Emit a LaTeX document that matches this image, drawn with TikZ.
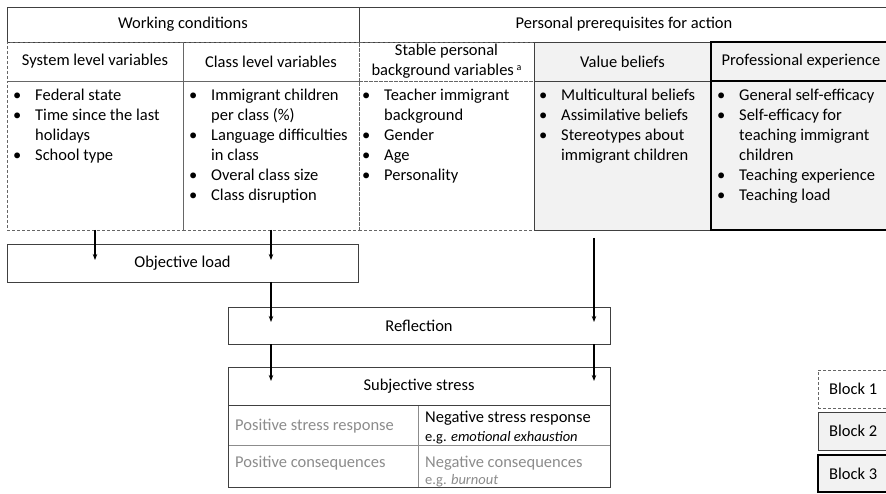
\documentclass[tikz,border=0pt]{standalone}
\usepackage{fontspec}
\setmainfont{Carlito}
\usetikzlibrary{arrows.meta}
\definecolor{fillg}{HTML}{F2F2F2}
\definecolor{lineg}{HTML}{404040}
\definecolor{txtg}{HTML}{8C8C8C}
\newcommand{\bi}{\makebox[22pt][l]{\textbullet}}
\newcommand{\bc}{\hspace*{22pt}}
\newcommand{\fst}{\rule{0pt}{13pt}}
\newcommand{\hfs}{\fontsize{16.5}{20}\selectfont}
\newcommand{\sfs}{\fontsize{14.5}{16}\selectfont}
\begin{document}
\begin{tikzpicture}[x=1pt,y=-1pt,
  box/.style={draw=lineg, line width=0.9pt, inner sep=0pt, outer sep=0pt, anchor=north west, font=\hfs, align=center},
  dbox/.style={box, draw=black!60, dash pattern=on 3pt off 2pt},
  gbox/.style={box, fill=fillg},
  tbox/.style={box, fill=fillg, draw=black, line width=2.6pt},
  cell/.style={box, draw=black!45},
  lst/.style={anchor=north west, align=left, inner sep=0pt, font=\hfs},
  txt/.style={anchor=base west, inner sep=0pt, font=\hfs},
  arr/.style={-{Stealth[length=6pt,width=4.5pt]}, line width=1.2pt, draw=black}]
\fill[white] (0,0) rectangle (886,494);
\useasboundingbox (0,0) rectangle (886,494);
% top headers
\node[box, minimum width=352pt, minimum height=35pt] (wc) at (7,7) {Working conditions};
\node[box, minimum width=530pt, minimum height=35pt] (pp) at (359,7) {Personal prerequisites for action};
% dashed block 1
\node[dbox, minimum width=176pt, minimum height=39pt] (sysh) at (7,42) {System level variables};
\node[dbox, minimum width=176pt, minimum height=39pt] (clsh) at (183,42) {Class level variables};
\node[dbox, minimum width=175pt, minimum height=39pt] (stbh) at (359,42) {Stable personal\\background variables\,{\fontsize{10}{10}\selectfont\raisebox{5pt}{a}}};
\node[dbox, minimum width=176pt, minimum height=149pt] (sysc) at (7,81) {};
\node[dbox, minimum width=176pt, minimum height=149pt] (clsc) at (183,81) {};
\node[dbox, minimum width=175pt, minimum height=149pt] (stbc) at (359,81) {};
% grey block 2
\node[gbox, minimum width=177pt, minimum height=39pt] (valh) at (534,42) {Value beliefs};
\node[gbox, minimum width=177pt, minimum height=149pt] (valc) at (534,81) {};
% thick block 3
\node[tbox, minimum width=180pt, minimum height=39pt] (profh) at (711,42) {Professional experience};
\node[tbox, minimum width=180pt, minimum height=149pt] (profc) at (711,81) {};
% lists
\node[lst] (sysl) at (13,87) {\fst\bi Federal state\\ \bi Time since the last\\ \bc holidays\\ \bi School type};
\node[lst] (clsl) at (189,87) {\fst\bi Immigrant children\\ \bc per class (\%)\\ \bi Language difficulties\\ \bc in class\\ \bi Overal class size\\ \bi Class disruption};
\node[lst] (stbl) at (362,87) {\fst\bi Teacher immigrant\\ \bc background\\ \bi Gender\\ \bi Age\\ \bi Personality};
\node[lst] (vall) at (539,87) {\fst\bi Multicultural beliefs\\ \bi Assimilative beliefs\\ \bi Stereotypes about\\ \bc immigrant children};
\node[lst] (profl) at (717,87) {\fst\bi General self-efficacy\\ \bi Self-efficacy for\\ \bc teaching immigrant\\ \bc children\\ \bi Teaching experience\\ \bi Teaching load};
% process boxes
\node[box, minimum width=351pt, minimum height=38pt] (ol) at (7,244) {Objective load};
\node[box, minimum width=382pt, minimum height=37pt] (refl) at (228,307) {Reflection};
\node[box, minimum width=382pt, minimum height=38pt] (ss) at (228,367) {Subjective stress};
\node[cell, minimum width=190pt, minimum height=40pt] (c11) at (228,405) {};
\node[cell, minimum width=192pt, minimum height=40pt] (c12) at (418,405) {};
\node[cell, minimum width=190pt, minimum height=42pt] (c21) at (228,445) {};
\node[cell, minimum width=192pt, minimum height=42pt] (c22) at (418,445) {};
\draw[draw=lineg, line width=0.9pt] (c11.north west) rectangle (c22.south east);
\node[txt, text=txtg] (t11) at (235,430) {Positive stress response};
\node[txt] (t12) at (425,422) {Negative stress response};
\node[txt, font=\sfs] (t12b) at (425,441) {e.g. \textit{emotional exhaustion}};
\node[txt, text=txtg] (t21) at (235,467) {Positive consequences};
\node[txt, text=txtg] (t22) at (425,467) {Negative consequences};
\node[txt, text=txtg, font=\sfs] (t22b) at (425,484) {e.g. \textit{burnout}};
% arrows
\coordinate (e1) at (95,260);
\coordinate (e2) at (271,260);
\coordinate (e3) at (271,322);
\coordinate (s4) at (594,238);
\coordinate (e4) at (594,322);
\coordinate (e5) at (271,381);
\coordinate (e6) at (594,381);
\draw[arr] (sysc.south) -- (e1);
\draw[arr] (clsc.south) -- (e2);
\draw[arr] (e3 |- ol.south) -- (e3);
\draw[arr] (s4) -- (e4);
\draw[arr] (e5 |- refl.south) -- (e5);
\draw[arr] (e6 |- refl.south) -- (e6);
% legend
\node[dbox, minimum width=80pt, minimum height=38pt] (b1) at (818,370) {};
\node[gbox, minimum width=80pt, minimum height=38pt] (b2) at (818,412) {};
\node[tbox, minimum width=80pt, minimum height=37pt] (b3) at (818,455) {};
\node[anchor=west, inner sep=0pt, font=\hfs] (b1t) at ([xshift=11pt]b1.west) {Block 1};
\node[anchor=west, inner sep=0pt, font=\hfs] (b2t) at ([xshift=11pt]b2.west) {Block 2};
\node[anchor=west, inner sep=0pt, font=\hfs] (b3t) at ([xshift=11pt]b3.west) {Block 3};
\end{tikzpicture}
\end{document}
